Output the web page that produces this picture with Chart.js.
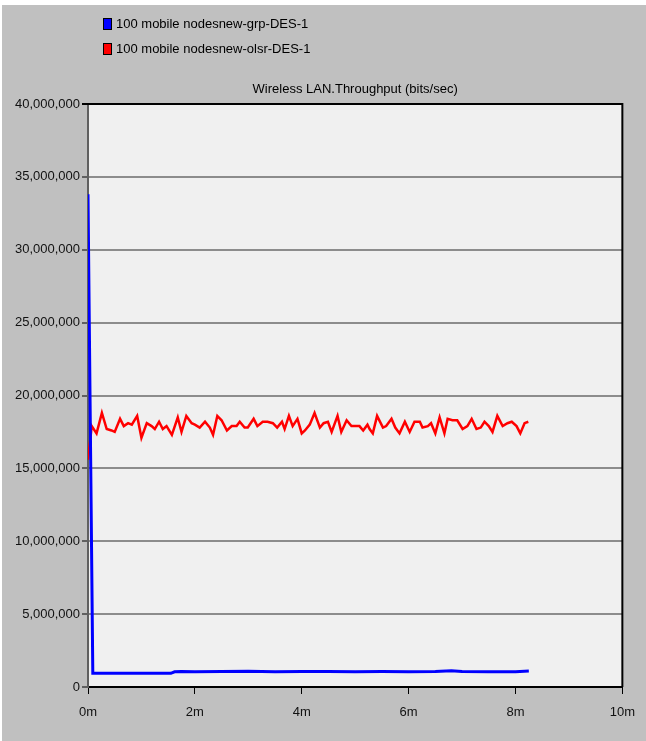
<!DOCTYPE html>
<html lang="en">
<head>
    <meta charset="UTF-8">
    <title>Wireless LAN.Throughput (bits/sec)</title>
    <script src="https://cdn.jsdelivr.net/npm/chart.js"></script>
    <style>
        body {
            margin: 0;
            background: #ffffff;
        }
        #wrap {
            position: relative;
            width: 646px;
            height: 741px;
        }
    </style>
</head>
<body>
<div id="wrap">
    <canvas id="myChart" width="646" height="741"></canvas>
</div>

<script>
    // series labels and title
    const seriesLabels = ['100 mobile nodesnew-grp-DES-1', '100 mobile nodesnew-olsr-DES-1'];
    const chartTitle = 'Wireless LAN.Throughput (bits/sec)';

    // grp run (minutes, millions of bits/sec)
    const grpTimes = [0, 0.09, 0.5, 1.0, 1.55, 1.62, 1.75, 2.0, 2.5, 3.0, 3.5, 4.0, 4.5, 5.0, 5.5, 6.0, 6.5, 6.8, 7.0, 7.5, 8.0, 8.25];
    const grpValues = [33.8, 0.95, 0.94, 0.95, 0.94, 1.04, 1.07, 1.05, 1.06, 1.08, 1.05, 1.06, 1.07, 1.05, 1.06, 1.04, 1.07, 1.12, 1.06, 1.05, 1.04, 1.09];

    // olsr run (minutes, millions of bits/sec)
    const olsrTimes = [0, 0.07, 0.16, 0.26, 0.35, 0.44, 0.50, 0.60, 0.67, 0.75, 0.82, 0.92, 1.00, 1.10, 1.19, 1.25,
        1.33, 1.40, 1.47, 1.57, 1.68, 1.75, 1.84, 1.94, 2.00, 2.09, 2.19, 2.28, 2.34, 2.42, 2.50, 2.60, 2.69, 2.78,
        2.84, 2.93, 2.99, 3.10, 3.17, 3.27, 3.36, 3.46, 3.54, 3.63, 3.68, 3.76, 3.83, 3.92, 4.00, 4.06, 4.15, 4.24,
        4.34, 4.41, 4.49, 4.56, 4.67, 4.74, 4.84, 4.93, 5.02, 5.08, 5.15, 5.23, 5.27, 5.33, 5.41, 5.52, 5.58, 5.68,
        5.75, 5.83, 5.93, 6.02, 6.11, 6.21, 6.26, 6.36, 6.42, 6.50, 6.58, 6.67, 6.73, 6.82, 6.91, 7.01, 7.10, 7.18,
        7.27, 7.35, 7.42, 7.50, 7.57, 7.66, 7.76, 7.85, 7.93, 8.02, 8.09, 8.17, 8.24];
    const olsrValues = [15.6, 17.9, 17.4, 18.8, 17.7, 17.6, 17.5, 18.4, 17.9, 18.1, 18.0, 18.6, 17.1, 18.1, 17.9, 17.7,
        18.2, 17.7, 17.9, 17.3, 18.5, 17.5, 18.6, 18.1, 18.0, 17.8, 18.2, 17.8, 17.3, 18.6, 18.3, 17.6, 17.9, 17.9,
        18.2, 17.8, 17.8, 18.4, 17.9, 18.2, 18.2, 18.1, 17.8, 18.2, 17.7, 18.6, 17.9, 18.4, 17.4, 17.6, 18.0, 18.8,
        17.8, 18.1, 18.2, 17.5, 18.6, 17.5, 18.3, 17.9, 17.9, 17.9, 17.6, 18.0, 17.7, 17.4, 18.6, 17.8, 17.9, 18.4,
        17.8, 17.4, 18.2, 17.5, 18.2, 18.2, 17.8, 17.9, 18.1, 17.4, 18.5, 17.4, 18.4, 18.3, 18.3, 17.7, 17.9, 18.4,
        17.7, 17.8, 18.2, 17.9, 17.5, 18.6, 17.9, 18.1, 18.2, 17.9, 17.4, 18.1, 18.2];

    // axis ticks
    const xTicks = [0, 2, 4, 6, 8, 10];
    const yTicks = [0, 5000000, 10000000, 15000000, 20000000, 25000000, 30000000, 35000000, 40000000];

    const FONT = '"Liberation Sans", Arial, sans-serif';

    function toPoints(times, values) {
        return times.map((t, i) => ({x: t, y: values[i] * 1000000}));
    }

    // background, frame, title and legend
    const frame = {
        id: 'frame',
        beforeDraw(chart) {
            const ctx = chart.ctx;
            const a = chart.chartArea;
            ctx.save();
            ctx.fillStyle = '#ffffff';
            ctx.fillRect(0, 0, chart.width, chart.height);
            ctx.fillStyle = '#c0c0c0';
            ctx.fillRect(2, 5, chart.width - 2, chart.height - 5);
            ctx.fillStyle = '#f0f0f0';
            ctx.fillRect(a.left, a.top, a.right - a.left, a.bottom - a.top);
            ctx.restore();
        },
        afterDraw(chart) {
            const ctx = chart.ctx;
            const a = chart.chartArea;
            ctx.save();
            ctx.strokeStyle = '#000000';
            ctx.lineWidth = 2;
            ctx.beginPath();
            ctx.moveTo(a.left - 6, a.top);
            ctx.lineTo(a.right, a.top);
            ctx.lineTo(a.right, a.bottom);
            ctx.stroke();

            ctx.font = '13px ' + FONT;
            ctx.fillStyle = '#000000';
            ctx.textBaseline = 'middle';
            ctx.textAlign = 'center';
            ctx.fillText(chartTitle, (a.left + a.right) / 2, 89);

            ctx.textAlign = 'left';
            chart.data.datasets.forEach((ds, i) => {
                const y = 24 + i * 25;
                ctx.fillStyle = ds.borderColor;
                ctx.fillRect(103, y - 6, 9, 12);
                ctx.strokeStyle = '#000000';
                ctx.lineWidth = 1;
                ctx.strokeRect(103.5, y - 5.5, 8, 11);
                ctx.fillStyle = '#000000';
                ctx.fillText(ds.label, 116, y);
            });
            ctx.restore();
        }
    };

    new Chart(document.getElementById('myChart'), {
        type: 'line',
        data: {
            datasets: [{
                label: seriesLabels[0],
                data: toPoints(grpTimes, grpValues),
                borderColor: '#0000ff',
                borderWidth: 3,
                pointRadius: 0,
                tension: 0
            }, {
                label: seriesLabels[1],
                data: toPoints(olsrTimes, olsrValues),
                borderColor: '#ff0000',
                borderWidth: 2.5,
                pointRadius: 0,
                tension: 0
            }]
        },
        options: {
            responsive: false,
            animation: false,
            devicePixelRatio: 1,
            layout: {
                padding: {top: 104, right: 23, left: 0, bottom: 0}
            },
            plugins: {
                legend: {display: false},
                title: {display: false},
                tooltip: {enabled: false}
            },
            scales: {
                x: {
                    type: 'linear',
                    min: 0,
                    max: 10,
                    afterBuildTicks: s => { s.ticks = xTicks.map(v => ({value: v})); },
                    afterFit: s => { s.height = 54; },
                    ticks: {
                        callback: v => v + 'm',
                        color: '#111111',
                        padding: 11,
                        maxRotation: 0,
                        font: {family: FONT, size: 13}
                    },
                    grid: {
                        drawOnChartArea: false,
                        drawTicks: true,
                        tickLength: 7,
                        tickColor: '#000000',
                        tickWidth: 1
                    },
                    border: {color: '#000000', width: 2}
                },
                y: {
                    min: 0,
                    max: 40000000,
                    afterBuildTicks: s => { s.ticks = yTicks.map(v => ({value: v})); },
                    afterFit: s => { s.width = 88; },
                    ticks: {
                        callback: v => v.toLocaleString('en-US'),
                        color: '#111111',
                        padding: 2,
                        font: {family: FONT, size: 13}
                    },
                    grid: {
                        color: '#8c8c8c',
                        lineWidth: 2,
                        tickLength: 6,
                        tickColor: '#000000',
                        tickWidth: 1
                    },
                    border: {color: '#606060', width: 2}
                }
            }
        },
        plugins: [frame]
    });
</script>
</body>
</html>
